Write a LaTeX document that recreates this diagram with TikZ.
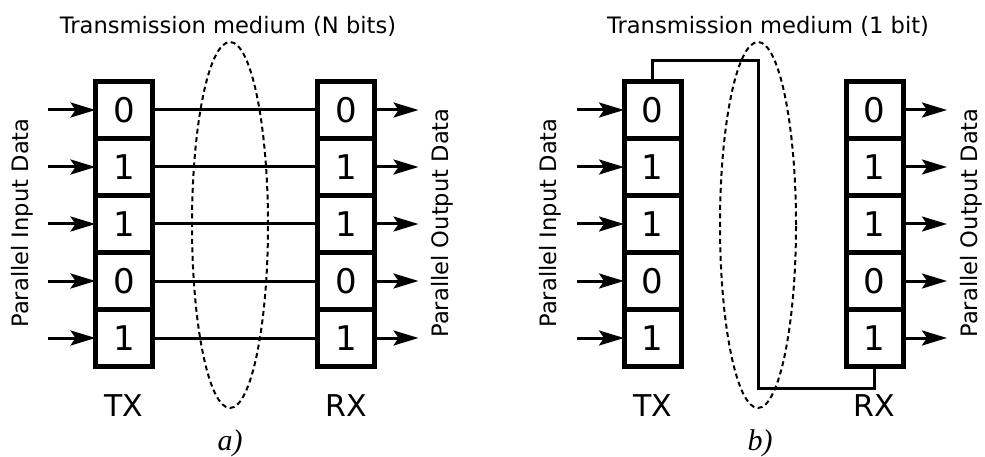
\documentclass[tikz,border=0pt]{standalone}
\usepackage{fontspec}
\setmainfont{DejaVu Sans}
\newfontfamily\subfont{Liberation Serif}
\usetikzlibrary{arrows.meta,positioning,shapes.geometric}

\begin{document}
\begin{tikzpicture}[x=1pt,y=-1pt,
    bitcell/.style={draw,line width=5pt,minimum size=57pt,inner sep=0pt,outer sep=0pt,font=\fontsize{34}{34}\selectfont},
    wire/.style={line width=3pt},
    arrow/.style={-{Stealth[length=25pt,width=15pt,inset=5pt]},line width=3pt},
    medium/.style={draw,ellipse,dash pattern=on 5pt off 3.5pt,line width=2pt,inner sep=0pt,minimum width=76pt,minimum height=366pt},
    caption/.style={font=\fontsize{22.6}{27}\selectfont},
    unit/.style={font=\fontsize{30}{30}\selectfont},
    sub/.style={font=\subfont\itshape\fontsize{30}{30}\selectfont}
  ]
  \useasboundingbox (0,0) rectangle (985,457);

  % a) parallel link, one wire per bit
  \foreach \b [count=\i from 0] in {0,1,1,0,1} {
    \node[bitcell] (atx\i) at (124,{110+57*\i}) {\b};
    \node[bitcell,right=165pt of atx\i] (arx\i) {\b};
    \coordinate[left=47.5pt of atx\i] (ain\i);
    \coordinate[right=44pt of arx\i] (aout\i);
    \draw[arrow] (ain\i) -- (atx\i);
    \draw[arrow] (arx\i) -- (aout\i);
    \draw[wire] (atx\i) -- (arx\i);
  }
  \node[medium] (amedium) at (230,225) {};
  \node[caption] (atitle) at (228,26) {Transmission medium (N bits)};
  \node[caption,rotate=90] (ainlabel) at (22,223) {Parallel Input Data};
  \node[caption,rotate=90] (aoutlabel) at (442,223) {Parallel Output Data};
  \node[unit] (atxlabel) at (124,406) {TX};
  \node[unit] (arxlabel) at (346,406) {RX};
  \node[sub] (asub) at (230,443) {a)};

  % b) serial link, a single wire
  \foreach \b [count=\i from 0] in {0,1,1,0,1} {
    \node[bitcell] (btx\i) at (652.5,{110+57*\i}) {\b};
    \node[bitcell,right=165pt of btx\i] (brx\i) {\b};
    \coordinate[left=47.5pt of btx\i] (bin\i);
    \coordinate[right=44pt of brx\i] (bout\i);
    \draw[arrow] (bin\i) -- (btx\i);
    \draw[arrow] (brx\i) -- (bout\i);
  }
  \coordinate (bup) at (758,61);
  \coordinate (bdown) at (758,388);
  \draw[wire] (btx0.north) |- (bup) -- (bdown) -| (brx4.south);
  \node[medium] (bmedium) at (758,225) {};
  \node[caption] (btitle) at (768,26) {Transmission medium (1 bit)};
  \node[caption,rotate=90] (binlabel) at (550.5,223) {Parallel Input Data};
  \node[caption,rotate=90] (boutlabel) at (971.5,223) {Parallel Output Data};
  \node[unit] (btxlabel) at (652.5,406) {TX};
  \node[unit] (brxlabel) at (874.5,406) {RX};
  \node[sub] (bsub) at (760,443) {b)};
\end{tikzpicture}
\end{document}
